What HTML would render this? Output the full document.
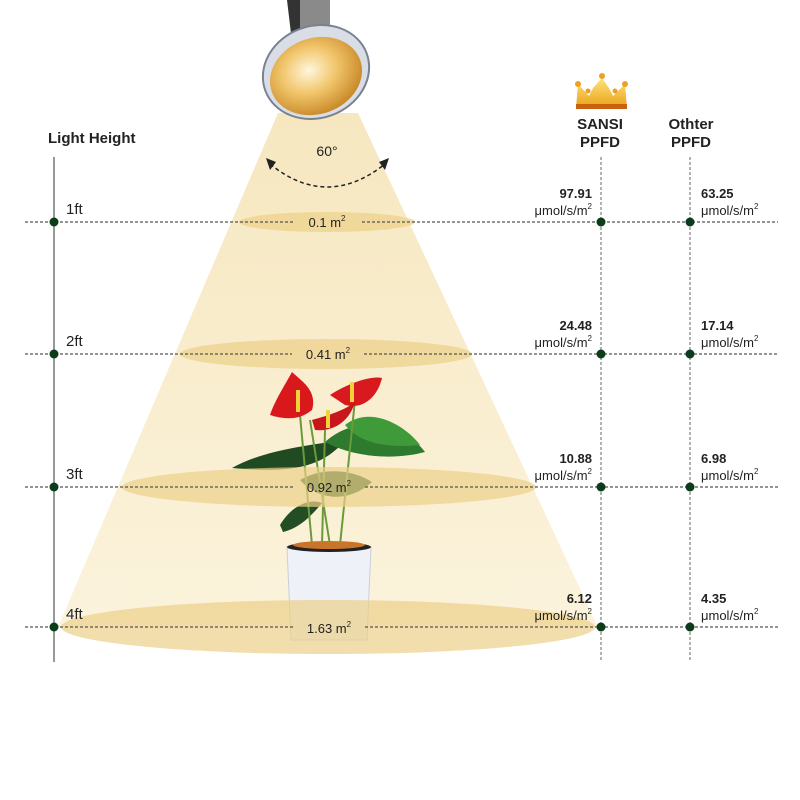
<!DOCTYPE html>
<html><head><meta charset="utf-8"><style>
body{margin:0;background:#fff}
svg{display:block;font-family:"Liberation Sans",sans-serif}
</style></head><body>
<svg width="800" height="800" viewBox="0 0 800 800">
<defs>
<linearGradient id="cone" x1="0" y1="0" x2="0" y2="1">
<stop offset="0" stop-color="#f6e7bf"/><stop offset="1" stop-color="#fbf3dc"/>
</linearGradient>
<radialGradient id="bulb" cx="0.45" cy="0.4" r="0.6">
<stop offset="0" stop-color="#fff6dc"/><stop offset="0.5" stop-color="#f1c56a"/><stop offset="1" stop-color="#c98a2a"/>
</radialGradient>
<linearGradient id="crown" x1="0" y1="0" x2="0" y2="1">
<stop offset="0" stop-color="#ffe27a"/><stop offset="1" stop-color="#e9a21a"/>
</linearGradient>
</defs>
<polygon points="278,113 358,113 598,627 58,627" fill="url(#cone)"/>
<!-- lamp -->
<path d="M287,0 L300,0 L302,40 L292,42 Z" fill="#333"/>
<path d="M300,0 L330,0 L330,40 L300,42 Z" fill="#8a8a8a"/>
<ellipse cx="316" cy="72" rx="54" ry="46" transform="rotate(-20 316 72)" fill="#d9dde6" stroke="#7a8290" stroke-width="2"/>
<ellipse cx="316" cy="76" rx="47" ry="38" transform="rotate(-20 316 76)" fill="url(#bulb)"/>
<text x="327" y="156" font-size="14" text-anchor="middle" fill="#222">60°</text>
<path d="M270,164 Q327,210 385,164" fill="none" stroke="#222" stroke-width="1.5" stroke-dasharray="4,3"/>
<polygon points="266,158 276,162 270,170" fill="#222"/>
<polygon points="389,158 379,162 385,170" fill="#222"/>
<!-- plant -->
<g>
<path d="M232,468 C260,452 300,446 345,440 C320,472 280,472 232,468 Z" fill="#1f4a22"/>
<path d="M325,442 C355,415 400,420 425,452 C395,460 355,458 325,442Z" fill="#2e7a2e"/>
<path d="M345,425 C370,405 405,425 420,445 C390,448 362,445 345,425Z" fill="#3f9a3a"/>
<path d="M300,480 C320,468 350,468 372,482 C350,502 320,502 300,480Z" fill="#2a5a2a"/>
<path d="M280,525 C292,505 310,498 322,503 C312,515 300,528 283,532Z" fill="#234d24"/>
<g stroke="#6a9a3a" stroke-width="2" fill="none">
<path d="M300,415 L312,545"/><path d="M325,430 L322,545"/><path d="M355,400 L340,545"/><path d="M310,420 L330,545"/>
</g>
<path d="M270,415 C275,400 285,385 292,372 C300,380 318,390 312,410 C300,420 285,420 270,415Z" fill="#d9181c"/>
<path d="M330,395 C345,385 370,375 382,378 C378,395 365,410 345,405Z" fill="#d81a1e"/>
<path d="M312,420 C330,415 345,410 355,402 C350,420 335,432 315,430Z" fill="#c8161a"/>
<rect x="296" y="390" width="4" height="22" fill="#f2d23a"/>
<rect x="350" y="382" width="4" height="20" fill="#f2d23a"/>
<rect x="326" y="410" width="4" height="18" fill="#f2d23a"/>
<path d="M287,547 L371,547 L367,640 L291,640 Z" fill="#eef1f7" stroke="#c8cfdc" stroke-width="1"/>
<ellipse cx="329" cy="547" rx="42" ry="5" fill="#222"/>
<ellipse cx="329" cy="545" rx="36" ry="4" fill="#c8742a"/>
</g>
<g fill="#edd089" opacity="0.7">
<ellipse cx="327" cy="222" rx="88" ry="10"/>
<ellipse cx="326" cy="354" rx="146" ry="15"/>
<ellipse cx="329" cy="487" rx="207" ry="20"/>
<ellipse cx="328" cy="627" rx="267" ry="27"/>
</g>
<line x1="54" y1="157" x2="54" y2="662" stroke="#555" stroke-width="1.2"/>
<line x1="601" y1="157" x2="601" y2="662" stroke="#666" stroke-width="1" stroke-dasharray="3,2"/>
<line x1="690" y1="157" x2="690" y2="662" stroke="#666" stroke-width="1" stroke-dasharray="3,2"/>
<g stroke="#555" stroke-width="1.2" stroke-dasharray="3,2">
<line x1="25" y1="222" x2="293" y2="222"/><line x1="362" y1="222" x2="778" y2="222"/>
<line x1="25" y1="354" x2="292" y2="354"/><line x1="364" y1="354" x2="778" y2="354"/>
<line x1="25" y1="487" x2="293" y2="487"/><line x1="365" y1="487" x2="778" y2="487"/>
<line x1="25" y1="627" x2="293" y2="627"/><line x1="365" y1="627" x2="778" y2="627"/>
</g>
<g fill="#0b3d1b">
<circle cx="54" cy="222" r="4.5"/><circle cx="601" cy="222" r="4.5"/><circle cx="690" cy="222" r="4.5"/>
<circle cx="54" cy="354" r="4.5"/><circle cx="601" cy="354" r="4.5"/><circle cx="690" cy="354" r="4.5"/>
<circle cx="54" cy="487" r="4.5"/><circle cx="601" cy="487" r="4.5"/><circle cx="690" cy="487" r="4.5"/>
<circle cx="54" cy="627" r="4.5"/><circle cx="601" cy="627" r="4.5"/><circle cx="690" cy="627" r="4.5"/>
</g>
<g font-size="13" text-anchor="middle" fill="#222">
<text x="327" y="227">0.1 m<tspan font-size="8" dy="-6">2</tspan></text>
<text x="328" y="359">0.41 m<tspan font-size="8" dy="-6">2</tspan></text>
<text x="329" y="492">0.92 m<tspan font-size="8" dy="-6">2</tspan></text>
<text x="329" y="633">1.63 m<tspan font-size="8" dy="-6">2</tspan></text>
</g>
<text x="48" y="143" font-size="15" font-weight="bold" fill="#222">Light Height</text>
<g font-size="15" fill="#222">
<text x="66" y="214">1ft</text><text x="66" y="346">2ft</text><text x="66" y="479">3ft</text><text x="66" y="619">4ft</text>
</g>
<path d="M576,108 L578,84 L589,96 L593,88 L602,78 L609,88 L613,96 L625,84 L627,108 Z" fill="url(#crown)"/>
<rect x="576" y="104" width="51" height="5" fill="#c8620f"/>
<g fill="#f0a020"><circle cx="578" cy="84" r="3"/><circle cx="602" cy="76" r="3"/><circle cx="625" cy="84" r="3"/><circle cx="588" cy="91" r="2.5"/><circle cx="615" cy="91" r="2.5"/></g>
<g font-size="15" font-weight="bold" fill="#222" text-anchor="middle">
<text x="600" y="129">SANSI</text><text x="600" y="147">PPFD</text>
<text x="691" y="129">Othter</text><text x="691" y="147">PPFD</text>
</g>
<g fill="#222" font-size="13">
<g text-anchor="end">
<text x="592" y="198" font-weight="bold">97.91</text><text x="592" y="215">μmol/s/m<tspan font-size="8" dy="-6">2</tspan></text>
<text x="592" y="330" font-weight="bold">24.48</text><text x="592" y="347">μmol/s/m<tspan font-size="8" dy="-6">2</tspan></text>
<text x="592" y="463" font-weight="bold">10.88</text><text x="592" y="480">μmol/s/m<tspan font-size="8" dy="-6">2</tspan></text>
<text x="592" y="603" font-weight="bold">6.12</text><text x="592" y="620">μmol/s/m<tspan font-size="8" dy="-6">2</tspan></text>
</g>
<text x="701" y="198" font-weight="bold">63.25</text><text x="701" y="215">μmol/s/m<tspan font-size="8" dy="-6">2</tspan></text>
<text x="701" y="330" font-weight="bold">17.14</text><text x="701" y="347">μmol/s/m<tspan font-size="8" dy="-6">2</tspan></text>
<text x="701" y="463" font-weight="bold">6.98</text><text x="701" y="480">μmol/s/m<tspan font-size="8" dy="-6">2</tspan></text>
<text x="701" y="603" font-weight="bold">4.35</text><text x="701" y="620">μmol/s/m<tspan font-size="8" dy="-6">2</tspan></text>
</g>
</svg>
</body></html>
